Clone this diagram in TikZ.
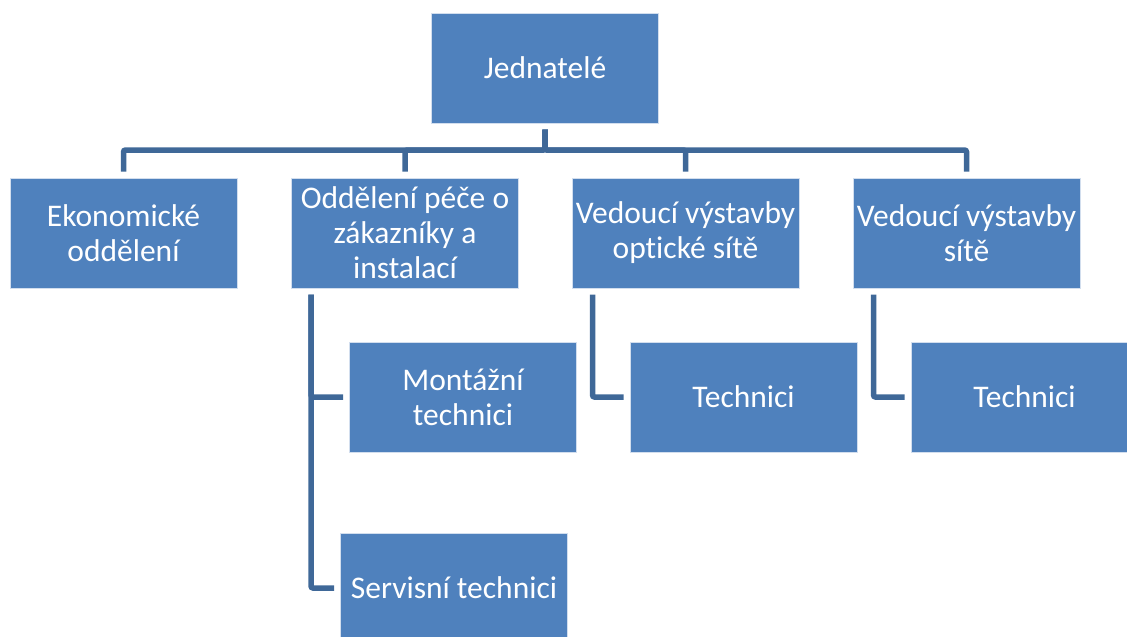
\documentclass[tikz,border=0pt]{standalone}
\usepackage{fontspec}
\setmainfont{Carlito}[RawFeature={-liga;-clig;-calt;-dlig}]
\usepackage{tikz}
\usetikzlibrary{positioning,calc}
\definecolor{modra}{HTML}{4F81BD}
\definecolor{linka}{HTML}{3F6898}
\definecolor{okraj}{HTML}{D2DEEE}
\tikzset{
  bunka/.style={rectangle, draw=okraj, fill=modra, line width=1pt,
                minimum width=227pt, minimum height=110pt, inner sep=0pt,
                align=center, text=white, font=\fontsize{31.5}{35}\selectfont},
  spoj/.style={draw=linka, line width=5.5pt, rounded corners=2pt,
               shorten <=6pt, shorten >=6pt}
}

\begin{document}
\begin{tikzpicture}[x=1pt, y=-1pt]
  \path[use as bounding box, clip] (0,0) rectangle (1127,637);

  % --- Uzly ---
  \node[bunka] (J) at (545,68)    {Jednatelé};
  \node[bunka] (E) at (123.5,233) {Ekonomické\\oddělení};
  \node[bunka] (P) at (405,233)   {Oddělení péče o\\zákazníky a\\instalací};
  \node[bunka] (V) at (685.5,233) {Vedoucí výstavby\\optické sítě};
  \node[bunka] (S) at (966.5,233) {Vedoucí výstavby\\sítě};
  \node[bunka] (MT) at (463,397)  {Montážní\\technici};
  \node[bunka] (ST) at (454,588)  {Servisní technici};
  \node[bunka] (T1) at (743.5,397) {Technici};
  \node[bunka] (T2) at (1024.5,397) {Technici};

  % --- Spoje ---
  \coordinate (sb) at (545,150);
  \foreach \n in {E,P,V,S} \draw[spoj] (J.south) -- (sb) -| (\n.north);
  \draw[spoj] ($(P.south west)+(20,0)$) |- (MT.west);
  \draw[spoj] ($(P.south west)+(20,0)$) |- (ST.west);
  \draw[spoj] ($(V.south west)+(21,0)$) |- (T1.west);
  \draw[spoj] ($(S.south west)+(21,0)$) |- (T2.west);
\end{tikzpicture}
\end{document}
